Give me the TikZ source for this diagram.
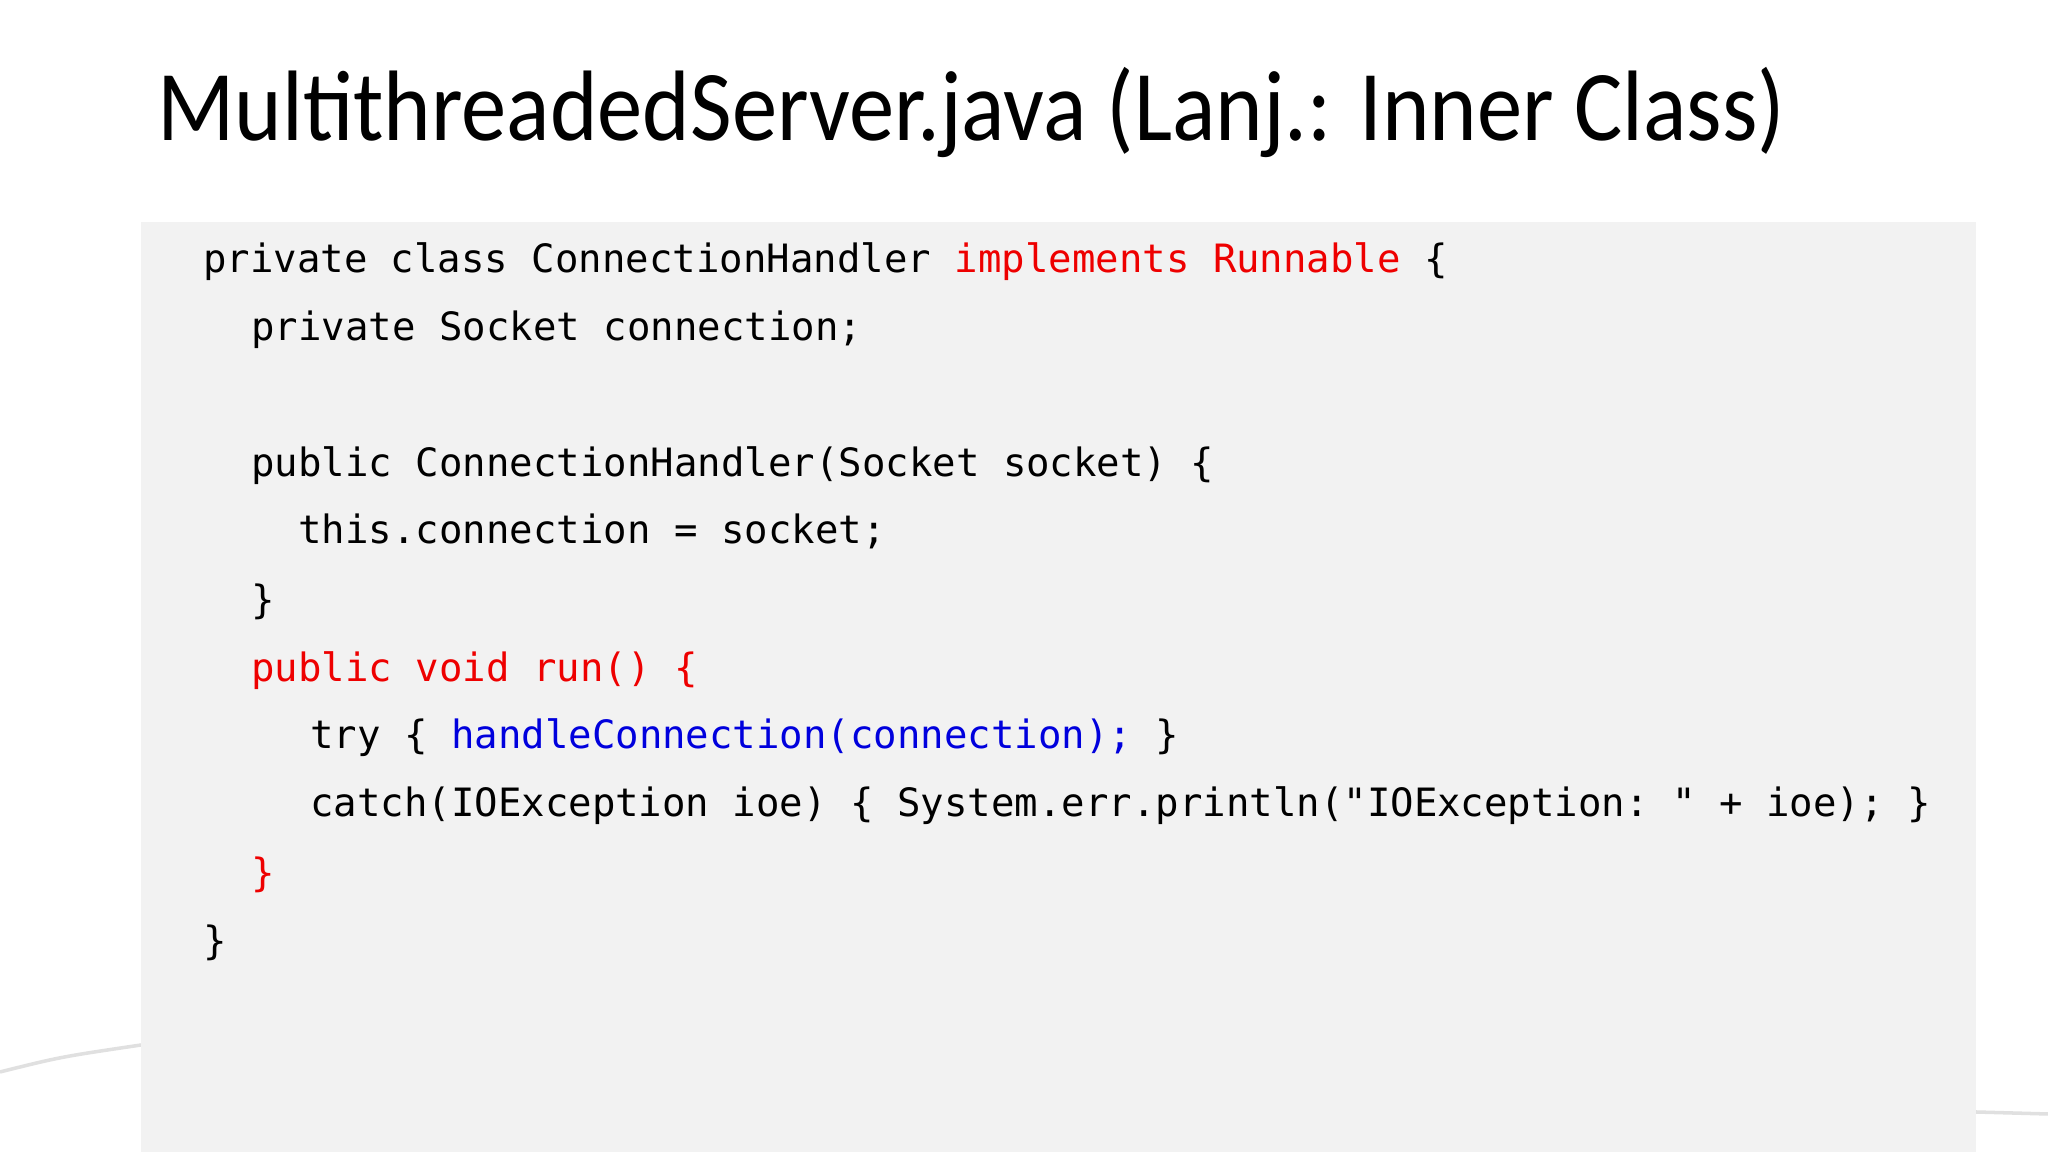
\documentclass[tikz,border=0pt]{standalone}
\usepackage{fontspec}
\setmainfont{Carlito}
\newfontfamily\titlefont[FakeStretch=0.904]{Carlito}
\setmonofont{DejaVu Sans Mono}
\definecolor{codebg}{HTML}{F2F2F2}
\definecolor{kwred}{HTML}{EE0000}
\definecolor{kwblue}{HTML}{0000DD}
\tikzset{code/.style={anchor=base west,inner sep=0pt,font=\ttfamily\fontsize{11.1}{13}\selectfont}}
\begin{document}
\begin{tikzpicture}
\useasboundingbox (0,0) rectangle (20.48,11.52);
\fill[white] (0,0) rectangle (20.48,11.52);
\draw[black!12,line width=1pt] (0,0.8) .. controls (0.6,0.95) .. (1.41,1.07);
\draw[black!12,line width=1pt] (19.76,0.4) -- (20.48,0.38);
\fill[codebg] (1.41,0) rectangle (19.76,9.30);
\node[anchor=base west,inner sep=0pt,font=\titlefont\fontsize{28.5}{32}\selectfont] (title) at (1.567,10.11) {MultithreadedServer.java (Lanj.: Inner Class)};
\begin{scope}[yshift=-0.02cm]
\node[code] (l1) at (2.024,8.817) {private class ConnectionHandler \textcolor{kwred}{implements Runnable} \{};
\node[code] (l2) at (2.508,8.137) {private Socket connection;};
\node[code] (l4) at (2.508,6.779) {public ConnectionHandler(Socket socket) \{};
\node[code] (l5) at (2.978,6.100) {this.connection = socket;};
\node[code] (l6) at (2.508,5.408) {\}};
\node[code,text=kwred] (l7) at (2.508,4.729) {public void run() \{};
\node[code] (l8) at (3.095,4.050) {try \{ \textcolor{kwblue}{handleConnection(connection);} \}};
\node[code] (l9) at (3.095,3.371) {catch(IOException ioe) \{ System.err.println("IOException: " + ioe); \}};
\node[code,text=kwred] (l10) at (2.508,2.678) {\}};
\node[code] (l11) at (2.024,1.999) {\}};
\end{scope}
\end{tikzpicture}
\end{document}
